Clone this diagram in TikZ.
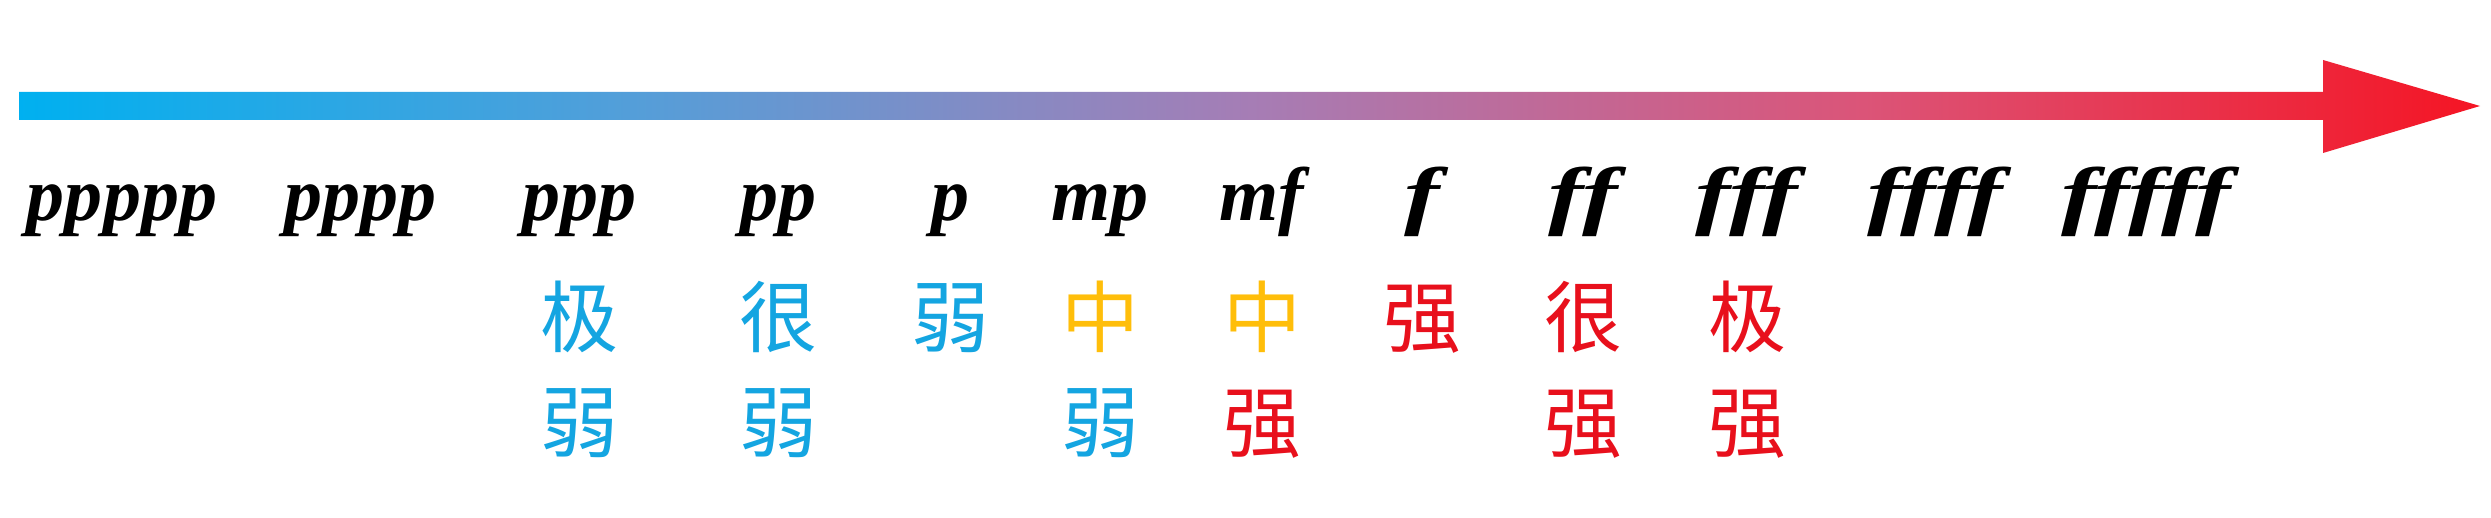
\documentclass[tikz,border=0pt]{standalone}
\usepackage{graphicx}
\usepackage{fontspec}
\newfontfamily\dynfont[Ligatures=NoCommon]{Liberation Serif}
\newfontfamily\cjkfont{Noto Sans CJK SC}
\newcommand{\widef}[1]{\scalebox{1.4}[1]{#1}}
\definecolor{weakblue}{RGB}{20,165,225}
\definecolor{midgold}{RGB}{255,190,10}
\definecolor{strongred}{RGB}{232,16,28}
\pgfdeclarehorizontalshading{dynshade}{100bp}{rgb(0bp)=(0.0,0.69,0.94); rgb(25bp)=(0.0,0.69,0.94); rgb(37.5bp)=(0.33,0.62,0.85); rgb(50bp)=(0.65,0.49,0.71); rgb(62.5bp)=(0.86,0.33,0.47); rgb(75bp)=(0.96,0.08,0.14); rgb(100bp)=(0.96,0.08,0.14)}
\tikzset{
  dyn/.style={anchor=base, inner sep=0pt, font=\dynfont\bfseries\itshape\fontsize{76}{80}\selectfont},
  zh/.style={anchor=base, inner sep=0pt, font=\cjkfont\fontsize{78}{90}\selectfont},
}
\begin{document}
\begin{tikzpicture}[x=1pt,y=-1pt]
\useasboundingbox (0,0) rectangle (2491,518);
\fill[white] (0,0) rectangle (2491,518);
% gradient arrow
\shade[shading=dynshade] (19,92) -- (2323,92) -- (2323,60) -- (2480,106) -- (2323,153) -- (2323,120) -- (19,120) -- cycle;
% dynamics
\node[dyn] (d1) at (122,221) {ppppp};
\node[dyn] (d2) at (360,221) {pppp};
\node[dyn] (d3) at (579,221) {ppp};
\node[dyn] (d4) at (778,221) {pp};
\node[dyn] (d5) at (950,221) {p};
\node[dyn] (d6) at (1100,221) {mp};
\node[dyn] (d7) at (1262,221) {mf};
\node[dyn] (d8) at (1422,221) {\widef{f}};
\node[dyn] (d9) at (1583,221) {\widef{ff}};
\node[dyn] (d10) at (1747,221) {\widef{fff}};
\node[dyn] (d11) at (1935,221) {\widef{ffff}};
\node[dyn] (d12) at (2146,221) {\widef{fffff}};
% Chinese, first row
\node[zh, text=weakblue] (c3a) at (579,347) {极};
\node[zh, text=weakblue] (c4a) at (778,347) {很};
\node[zh, text=weakblue] (c5a) at (950,347) {弱};
\node[zh, text=midgold] (c6a) at (1100,347) {中};
\node[zh, text=midgold] (c7a) at (1262,347) {中};
\node[zh, text=strongred] (c8a) at (1422,347) {强};
\node[zh, text=strongred] (c9a) at (1583,347) {很};
\node[zh, text=strongred] (c10a) at (1747,347) {极};
% Chinese, second row
\node[zh, text=weakblue] (c3b) at (579,451) {弱};
\node[zh, text=weakblue] (c4b) at (778,451) {弱};
\node[zh, text=weakblue] (c6b) at (1100,451) {弱};
\node[zh, text=strongred] (c7b) at (1262,451) {强};
\node[zh, text=strongred] (c9b) at (1583,451) {强};
\node[zh, text=strongred] (c10b) at (1747,451) {强};
\end{tikzpicture}
\end{document}
